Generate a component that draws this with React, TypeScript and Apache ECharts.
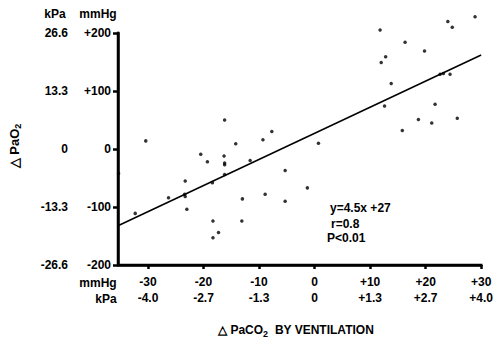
import React, { useEffect, useRef } from "react";
import * as echarts from "echarts";

// Scatter data (ΔPaCO2 mmHg, ΔPaO2 mmHg)
const xValues = [
  -16.2, -30.4, -14.2, -20.5, -16.3, -19.3, -16.2, -16.2, -16.2, -23.3,
  -18.4, -26.3, -23.4, -23.3, -32.3, -23.0, -18.3, -17.3, -18.3, -35.3,
  -7.7, -9.3, 0.7, -11.6, -5.3, -1.3, -13.0, -8.9, -5.3, -13.1,
  28.9, 24.0, 24.8, 11.8, 16.3, 19.8, 12.8, 12.0, 22.6, 23.2,
  24.4, 13.8, 12.6, 21.7, 18.7, 21.1, 25.7, 15.8,
];
const yValues = [
  50, 14, 9, -9, -12, -22, -24, -27, -44, -55,
  -58, -84, -78, -82, -111, -104, -124, -144, -153, -42,
  30, 16, 10, -20, -37, -67, -86, -78, -90, -124,
  228, 220, 210, 205, 184, 169, 159, 149, 129, 130,
  129, 113, 74, 77, 51, 45, 53, 32,
];

// Regression
const slope = 4.5;
const intercept = 27;

// Axes
const xTicks = [-30, -20, -10, 0, 10, 20, 30];
const xMmHgLabels = ["-30", "-20", "-10", "0", "+10", "+20", "+30"];
const xKpaLabels = ["-4.0", "-2.7", "-1.3", "0", "+1.3", "+2.7", "+4.0"];
const yTicks = [-200, -100, 0, 100, 200];
const yMmHgLabels = ["-200", "-100", "0", "+100", "+200"];
const yKpaLabels = ["-26.6", "-13.3", "0", "13.3", "26.6"];

const X_MIN = -35.4;
const X_MAX = 30;
const Y_MIN = -200;
const Y_MAX = 200;

const FONT = "Liberation Sans";
const INK = "#000";

function lookup(ticks: number[], labels: string[], v: number) {
  const i = ticks.findIndex((t) => Math.abs(t - v) < 1e-6);
  return i >= 0 ? labels[i] : "";
}

export default function App() {
  const ref = useRef<HTMLDivElement>(null);
  useEffect(() => {
    if (!ref.current) return;
    const chart = echarts.init(ref.current, undefined, { renderer: "svg" });
    const pts = xValues.map((x, i) => [x, yValues[i]]);
    const lbl = { fontFamily: FONT, fontSize: 12, fontWeight: "bold" as const, color: INK };
    const frameLine = (data: number[][]) => ({
      type: "line",
      data,
      showSymbol: false,
      clip: false,
      silent: true,
      lineStyle: { color: INK, width: 2.5, cap: "square" },
      xAxisIndex: 0,
      yAxisIndex: 0,
      z: 3,
    });
    chart.setOption({
      animation: false,
      backgroundColor: "#fff",
      grid: { left: 118, right: 14, top: 33, bottom: 82 },
      xAxis: [
        {
          type: "value",
          min: X_MIN,
          max: X_MAX,
          axisLine: { show: true, onZero: false, lineStyle: { color: INK, width: 2.5 } },
          axisTick: { show: true, customValues: xTicks, length: 4, lineStyle: { color: INK, width: 2.5 } },
          axisLabel: {
            ...lbl,
            customValues: xTicks,
            margin: 11,
            formatter: (v: number) => lookup(xTicks, xMmHgLabels, v),
          },
          splitLine: { show: false },
        },
        {
          type: "value",
          min: X_MIN,
          max: X_MAX,
          position: "bottom",
          offset: 16,
          axisLine: { show: false },
          axisTick: { show: false },
          axisLabel: {
            ...lbl,
            customValues: xTicks,
            margin: 11,
            formatter: (v: number) => lookup(xTicks, xKpaLabels, v),
          },
          splitLine: { show: false },
        },
      ],
      yAxis: [
        {
          type: "value",
          min: Y_MIN,
          max: Y_MAX,
          interval: 100,
          axisLine: { show: true, onZero: false, lineStyle: { color: INK, width: 2.5 } },
          axisTick: { show: true, length: 5, lineStyle: { color: INK, width: 2.5 } },
          axisLabel: {
            ...lbl,
            margin: 7,
            formatter: (v: number) => lookup(yTicks, yMmHgLabels, v),
          },
          splitLine: { show: false },
        },
        {
          type: "value",
          min: Y_MIN,
          max: Y_MAX,
          interval: 100,
          position: "left",
          offset: 42,
          axisLine: { show: false },
          axisTick: { show: false },
          axisLabel: {
            ...lbl,
            margin: 8,
            formatter: (v: number) => lookup(yTicks, yKpaLabels, v),
          },
          splitLine: { show: false },
        },
      ],
      series: [
        frameLine([
          [X_MIN, Y_MAX],
          [X_MIN, Y_MIN],
          [X_MAX, Y_MIN],
        ]),
        {
          type: "scatter",
          data: pts,
          symbolSize: 3.5,
          clip: false,
          z: 5,
          itemStyle: { color: INK },
          xAxisIndex: 0,
          yAxisIndex: 0,
        },
        {
          type: "line",
          data: [
            [X_MIN, slope * X_MIN + intercept],
            [X_MAX, slope * X_MAX + intercept],
          ],
          showSymbol: false,
          lineStyle: { color: INK, width: 1.5 },
          xAxisIndex: 0,
          yAxisIndex: 0,
        },
      ],
      graphic: [
        { type: "text", x: 55, y: 14, style: { text: "kPa", font: `bold 12px ${FONT}`, fill: INK, align: "center", verticalAlign: "middle" } },
        { type: "text", x: 98, y: 14, style: { text: "mmHg", font: `bold 12px ${FONT}`, fill: INK, align: "center", verticalAlign: "middle" } },
        { type: "text", x: 98, y: 283, style: { text: "mmHg", font: `bold 12px ${FONT}`, fill: INK, align: "center", verticalAlign: "middle" } },
        { type: "text", x: 106, y: 299, style: { text: "kPa", font: `bold 12px ${FONT}`, fill: INK, align: "center", verticalAlign: "middle" } },
        {
          type: "text",
          x: 296,
          y: 330,
          style: {
            text: "{a|△ PaCO}{s|2}{a|  BY VENTILATION}",
            rich: {
              a: { fontFamily: FONT, fontSize: 12, fontWeight: "bold", fill: INK, color: INK },
              s: { fontFamily: FONT, fontSize: 9, fontWeight: "bold", fill: INK, color: INK, padding: [7, 0, 0, 0] },
            },
            align: "center",
            verticalAlign: "middle",
          },
        },
        {
          type: "text",
          x: 14,
          y: 146,
          rotation: Math.PI / 2,
          style: {
            text: "{a|△ PaO}{s|2}",
            rich: {
              a: { fontFamily: FONT, fontSize: 13, fontWeight: "bold", fill: INK, color: INK },
              s: { fontFamily: FONT, fontSize: 9, fontWeight: "bold", fill: INK, color: INK, padding: [7, 0, 0, 0] },
            },
            align: "center",
            verticalAlign: "middle",
          },
        },
        { type: "text", x: 330, y: 208, style: { text: "y=4.5x +27", font: `bold 12px ${FONT}`, fill: INK, align: "left", verticalAlign: "middle" } },
        { type: "text", x: 331, y: 224, style: { text: "r=0.8", font: `bold 12px ${FONT}`, fill: INK, align: "left", verticalAlign: "middle" } },
        { type: "text", x: 327, y: 238, style: { text: "P<0.01", font: `bold 12px ${FONT}`, fill: INK, align: "left", verticalAlign: "middle" } },
      ],
    });
    return () => chart.dispose();
  }, []);
  return (
    <div
      ref={ref}
      style={{ position: "fixed", left: 0, top: 0, width: 496, height: 347, background: "#fff" }}
    />
  );
}
